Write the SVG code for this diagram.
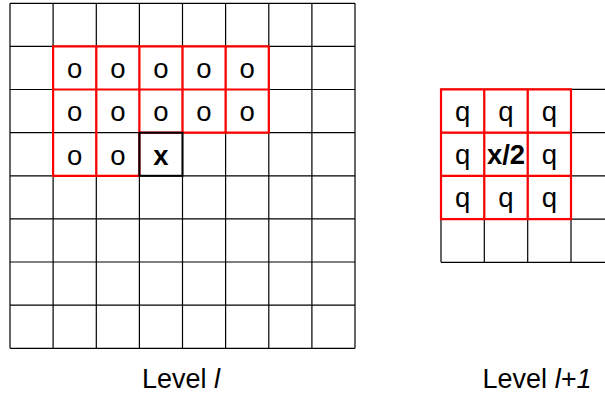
<svg xmlns="http://www.w3.org/2000/svg" width="605" height="394" viewBox="0 0 605 394">
<style>
.g{stroke:#000;stroke-width:1.2;fill:none}
.r{stroke:#f00;stroke-width:2.2;fill:none}
.t{font-family:"Liberation Sans",Arial,sans-serif;font-size:27px;text-anchor:middle;fill:#000}
.c{font-size:27.5px}
.b{font-weight:bold}
</style>
<rect width="605" height="394" fill="#fff"/>
<g id="level-l">
<path class="g" d="M10,3.3V348.3M53.1,3.3V348.3M96.3,3.3V348.3M139.4,3.3V348.3M182.5,3.3V348.3M225.6,3.3V348.3M268.8,3.3V348.3M311.9,3.3V348.3M355,3.3V348.3M10,3.3H355M10,46.4H355M10,89.5H355M10,132.7H355M10,175.8H355M10,218.9H355M10,262H355M10,305.2H355M10,348.3H355"/>
<path class="r" d="M53.1,46.4H268.8V132.7H139.4V175.8H53.1ZM53.1,89.5H268.8M96.3,46.4V175.8M139.4,46.4V132.7M182.5,46.4V132.7M225.6,46.4V132.7"/>
<rect x="139.4" y="132.7" width="43.1" height="43.1" fill="none" stroke="#000" stroke-width="2"/>
<g class="t c">
<text x="74.7" y="78.3">o</text><text x="117.8" y="78.3">o</text><text x="161" y="78.3">o</text><text x="204" y="78.3">o</text><text x="247.2" y="78.3">o</text>
<text x="74.7" y="121.4">o</text><text x="117.8" y="121.4">o</text><text x="161" y="121.4">o</text><text x="204" y="121.4">o</text><text x="247.2" y="121.4">o</text>
<text x="74.7" y="164.5">o</text><text x="117.8" y="164.5">o</text><text x="161" y="164.5" class="b">x</text>
</g>
<text class="t" x="181" y="388">Level <tspan font-style="italic">l</tspan></text>
</g>
<g id="level-l1">
<path class="g" d="M441,89.3V262.3M484.3,89.3V262.3M527.7,89.3V262.3M571,89.3V262.3M441,89.3H605M441,132.6H605M441,175.9H605M441,219.1H605M441,262.3H605"/>
<path class="r" d="M441,89.3H571V219.1H441ZM441,132.6H571M441,175.9H571M484.3,89.3V219.1M527.7,89.3V219.1"/>
<g class="t c">
<text x="462.7" y="120.5">q</text><text x="506" y="120.5">q</text><text x="549.3" y="120.5">q</text>
<text x="462.7" y="163.5">q</text><text x="506" y="163.5" class="b">x/2</text><text x="549.3" y="163.5">q</text>
<text x="462.7" y="206.5">q</text><text x="506" y="206.5">q</text><text x="549.3" y="206.5">q</text>
</g>
<text class="t" x="537" y="388">Level <tspan font-style="italic">l+1</tspan></text>
</g>
</svg>
